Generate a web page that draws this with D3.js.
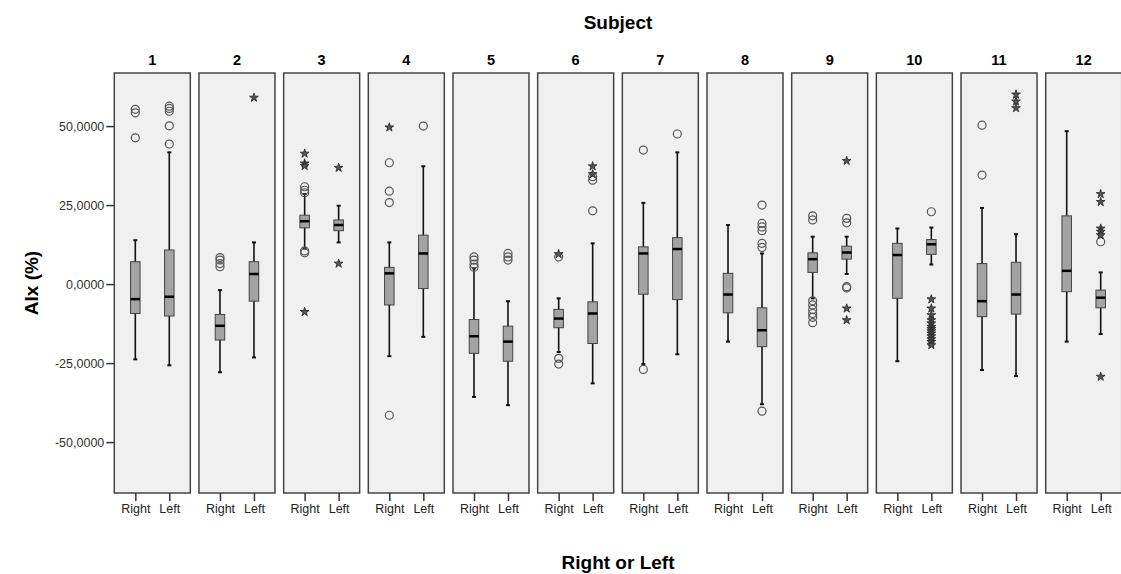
<html>
<script src='https://d3js.org/d3.v7.min.js'></script>
<style>
  body { margin: 0; background: #fff; }
  text { font-family: "Liberation Sans", Arial, sans-serif; }
</style>
<body>
<svg width=1121 height=574></svg>

<script>
// Subjects and sides
var subjects = ["1","2","3","4","5","6","7","8","9","10","11","12"];
var sides = ["Right","Left"];
var yTicks = [50, 25, 0, -25, -50];
var yTickLabels = ["50,0000","25,0000","0,0000","-25,0000","-50,0000"];

// Box statistics per subject, [Right, Left]
var whiskerLow = [[-23.8,-25.7],[-27.9,-23.2],[11.3,13.2],[-22.8,-16.7],[-35.7,-38.3],[-21.5,-31.4],
                  [-25.3,-22.2],[-18.2,-38.0],[-4.5,3.2],[-24.4,6.2],[-27.2,-29.1],[-18.2,-15.8]];
var q1 = [[-9.3,-10.1],[-17.7,-5.4],[17.8,16.9],[-6.6,-1.4],[-21.9,-24.4],[-13.8,-18.8],
          [-3.2,-4.9],[-9.1,-19.8],[3.7,7.9],[-4.5,9.4],[-10.3,-9.5],[-2.4,-7.5]];
var median = [[-4.75,-4.0],[-13.2,3.2],[19.9,18.7],[3.4,9.7],[-16.5,-18.2],[-10.9,-9.3],
              [9.7,11.1],[-3.3,-14.6],[7.9,10.0],[9.2,12.6],[-5.4,-3.3],[4.2,-4.3]];
var q3 = [[7.1,10.8],[-9.6,7.1],[21.8,20.3],[5.3,15.5],[-11.2,-13.3],[-8.0,-5.6],
          [11.8,14.7],[3.4,-7.5],[9.9,12.0],[12.9,14.1],[6.5,6.9],[21.6,-1.9]];
var whiskerHigh = [[13.9,41.7],[-1.9,13.2],[28.5,24.8],[13.2,37.3],[5.0,-5.4],[-4.5,12.9],
                   [25.7,41.7],[18.7,9.7],[15.0,15.0],[17.6,17.9],[24.1,15.8],[48.4,3.7]];

// Outliers (circles) and extreme values (stars), [Right, Left]
var outliers = [
  [[55.3,54.2,46.3],[56.3,55.6,54.7,50.1,44.3]],
  [[8.4,7.6,6.5,5.5],[]],
  [[30.8,29.7,28.9,10.5,9.9],[]],
  [[38.4,29.4,25.8,-41.5],[50.0]],
  [[8.6,7.6,6.3,5.3],[9.7,8.6,7.6]],
  [[8.6,-23.5,-25.3],[34.0,32.9,23.2]],
  [[42.4,-27.0],[47.5]],
  [[],[25.0,19.2,18.1,16.9,12.9,11.6,-40.2]],
  [[21.6,20.3,-5.3,-6.6,-8.0,-9.3,-10.5,-12.2],[20.8,19.4,-0.8,-1.2]],
  [[],[22.9]],
  [[50.3,34.5],[]],
  [[],[13.4]]
];
var extremes = [
  [[],[]],
  [[],[59.0]],
  [[41.3,38.2,37.4,-8.8],[36.8,6.5]],
  [[49.6],[]],
  [[],[]],
  [[9.5],[37.3,34.8]],
  [[],[]],
  [[],[]],
  [[],[39.0,-7.7,-11.4]],
  [[],[-4.8,-7.7,-9.8,-11.4,-12.4,-13.5,-14.2,-14.9,-15.6,-16.5,-17.4,-18.3,-19.3]],
  [[],[60.0,57.8,55.7]],
  [[],[28.5,26.0,17.6,16.6,15.5,-29.3]]
];

var svg = d3.select("svg");
var plotTop = 73, plotBottom = 493;

var y = d3.scaleLinear().domain([-66.1, 66.8]).range([plotBottom, plotTop]);
var xPanel = d3.scaleBand().domain(subjects).range([114.3, 1121.7]).paddingInner(0.1024).paddingOuter(0);
var xSide = d3.scalePoint().domain(sides).range([0, xPanel.bandwidth()]).padding(0.618);
var boxW = 9.5, capW = 4;

// y axis
var yAxis = svg.append("g")
  .attr("transform", "translate(" + xPanel.range()[0] + ",0)")
  .call(d3.axisLeft(y).tickValues(yTicks).tickSize(8).tickPadding(2)
        .tickFormat(function(d, i) { return yTickLabels[i]; }));
yAxis.select(".domain").remove();
yAxis.selectAll("line").attr("stroke", "#333").attr("stroke-width", 1.5);
yAxis.selectAll("text").attr("font-size", 12.5).attr("fill", "#333")
  .style("font-family", "'Liberation Sans', Arial, sans-serif");

// titles
svg.append("text").attr("x", 618).attr("y", 29).attr("text-anchor", "middle")
  .attr("font-size", 19).attr("font-weight", "bold").text("Subject");
svg.append("text").attr("x", 618).attr("y", 569).attr("text-anchor", "middle")
  .attr("font-size", 19).attr("font-weight", "bold").text("Right or Left");
svg.append("text").attr("transform", "translate(38,283) rotate(-90)").attr("text-anchor", "middle")
  .attr("font-size", 19).attr("font-weight", "bold").text("AIx (%)");

var star = d3.symbol().type(d3.symbolStar).size(24);

subjects.forEach(function(s, i) {
  var g = svg.append("g").attr("transform", "translate(" + xPanel(s) + ",0)");

  g.append("text").attr("x", xPanel.bandwidth() / 2).attr("y", 65).attr("text-anchor", "middle")
    .attr("font-size", 14.5).attr("font-weight", "bold").text(s);

  g.append("rect").attr("x", 0).attr("y", plotTop)
    .attr("width", xPanel.bandwidth()).attr("height", plotBottom - plotTop)
    .attr("fill", "#f0f0f0").attr("stroke", "#444").attr("stroke-width", 1.5);

  var xa = g.append("g").attr("transform", "translate(0," + plotBottom + ")")
    .call(d3.axisBottom(xSide).tickSize(8).tickPadding(3));
  xa.select(".domain").remove();
  xa.selectAll("line").attr("stroke", "#333").attr("stroke-width", 1.5);
  xa.selectAll("text").attr("font-size", 12.5).attr("fill", "#222")
    .style("font-family", "'Liberation Sans', Arial, sans-serif");

  sides.forEach(function(side, j) {
    var cx = xSide(side);
    // whisker
    g.append("line").attr("x1", cx).attr("x2", cx)
      .attr("y1", y(whiskerLow[i][j])).attr("y2", y(whiskerHigh[i][j]))
      .attr("stroke", "#111").attr("stroke-width", 1.6);
    [whiskerLow[i][j], whiskerHigh[i][j]].forEach(function(v) {
      g.append("line").attr("x1", cx - capW / 2).attr("x2", cx + capW / 2)
        .attr("y1", y(v)).attr("y2", y(v)).attr("stroke", "#111").attr("stroke-width", 2);
    });
    // box
    g.append("rect").attr("x", cx - boxW / 2).attr("y", y(q3[i][j]))
      .attr("width", boxW).attr("height", y(q1[i][j]) - y(q3[i][j]))
      .attr("fill", "#a3a3a3").attr("stroke", "#444").attr("stroke-width", 1);
    g.append("line").attr("x1", cx - boxW / 2).attr("x2", cx + boxW / 2)
      .attr("y1", y(median[i][j])).attr("y2", y(median[i][j]))
      .attr("stroke", "#000").attr("stroke-width", 2.5);
    // outliers
    g.selectAll(null).data(outliers[i][j]).enter().append("circle")
      .attr("cx", cx).attr("cy", function(d) { return y(d); }).attr("r", 4)
      .attr("fill", "none").attr("stroke", "#555").attr("stroke-width", 1.2);
    g.selectAll(null).data(extremes[i][j]).enter().append("path")
      .attr("d", star)
      .attr("transform", function(d) { return "translate(" + cx + "," + y(d) + ")"; })
      .attr("fill", "#555").attr("stroke", "#222").attr("stroke-width", 0.8);
  });
});
</script>
</body>
</html>
